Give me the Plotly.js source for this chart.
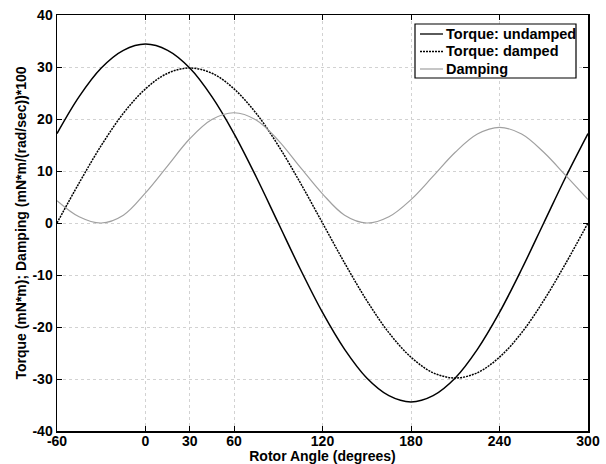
<!DOCTYPE html>
<html>
<head>
<meta charset="utf-8">
<script src="https://cdn.plot.ly/plotly-3.0.1.min.js"></script>
<style>html,body{margin:0;padding:0;background:#fff;}#chart{width:606px;height:464px;}</style>
</head>
<body>
<div id="chart"></div>
<script>
// Rotor angle (degrees)
const angle = [-60,-45,-30,-15,0,15,30,45,60,75,90,105,120,135,150,165,180,195,210,225,240,255,270,285,300];
// Torque: undamped (mN*m)
const torqueUndamped = [17.2,24.3,29.8,33.2,34.4,33.2,29.8,24.3,17.2,8.9,0.0,-8.9,-17.2,-24.3,-29.8,-33.2,-34.4,-33.2,-29.8,-24.3,-17.2,-8.9,0.0,8.9,17.2];
// Torque: damped (mN*m)
const torqueDamped = [0.0,7.7,14.9,21.1,25.8,28.8,29.8,28.8,25.8,21.1,14.9,7.7,0.0,-7.7,-14.9,-21.1,-25.8,-28.8,-29.8,-28.8,-25.8,-21.1,-14.9,-7.7,0.0];
// Damping (mN*m/(rad/sec))*100
const damping = [4.3,1.2,0.0,1.5,5.8,11.0,16.2,19.9,21.2,19.8,15.9,10.7,5.6,1.5,0.0,1.2,4.5,9.0,13.6,17.1,18.4,17.1,13.6,9.1,4.5];

const seriesNames = ['Torque: undamped', 'Torque: damped', 'Damping'];
const xTicks = [-60,0,30,60,120,180,240,300];
const yTicks = [-40,-30,-20,-10,0,10,20,30,40];

const FONT = 'Liberation Sans, Arial, sans-serif';
const lineStyles = [
  {color: '#000000', width: 1.5},
  {color: '#000000', width: 1.5, dash: '2px,1px'},
  {color: '#a0a0a0', width: 1.2}
];

const traces = [torqueUndamped, torqueDamped, damping].map((ys, i) => ({
  x: angle, y: ys, name: seriesNames[i], type: 'scatter', mode: 'lines',
  line: Object.assign({shape: 'spline'}, lineStyles[i])
}));

// Legend drawn as a boxed key in the upper right (paper coordinates)
const W = 606, H = 464, M = {l: 57, r: 18, t: 15, b: 33};
const pw = W - M.l - M.r, ph = H - M.t - M.b;
const px = v => (v - M.l) / pw;
const py = v => 1 - (v - M.t) / ph;
const shapes = [{type: 'rect', xref: 'paper', yref: 'paper', x0: px(415), x1: px(576), y0: py(78), y1: py(24),
  line: {color: '#000000', width: 1.2}, fillcolor: '#ffffff', layer: 'above'}];
const annotations = [];
const rowY = [34, 51.5, 69];
seriesNames.forEach((name, i) => {
  shapes.push({type: 'line', xref: 'paper', yref: 'paper', x0: px(420), x1: px(443), y0: py(rowY[i]), y1: py(rowY[i]),
    line: Object.assign({}, lineStyles[i], {width: i === 2 ? 1.2 : 1.3}), layer: 'above'});
  annotations.push({xref: 'paper', yref: 'paper', x: px(444), y: py(rowY[i]), xanchor: 'left', yanchor: 'middle',
    text: '<b>' + name + '</b>', showarrow: false, font: {family: FONT, size: 14.5, color: '#000000'}});
});

const axisCommon = {
  showline: true, linecolor: '#000000', linewidth: 1.5, mirror: 'ticks',
  ticks: 'inside', ticklen: 5, tickcolor: '#000000', tickwidth: 1,
  showgrid: true, gridcolor: '#d2d2d2', griddash: 'dot', gridwidth: 1,
  zeroline: false,
  tickfont: {family: FONT, size: 14, color: '#000000', weight: 'bold'}
};

const layout = {
  width: W, height: H,
  margin: M,
  paper_bgcolor: '#ffffff', plot_bgcolor: '#ffffff',
  showlegend: false,
  shapes: shapes,
  annotations: annotations,
  xaxis: Object.assign({}, axisCommon, {
    range: [-60, 300], tickmode: 'array', tickvals: xTicks, ticktext: xTicks.map(String),
    ticklabelstandoff: -3,
    title: {text: '<b>Rotor Angle (degrees)</b>', font: {family: FONT, size: 14, color: '#000000'}, standoff: 2}
  }),
  yaxis: Object.assign({}, axisCommon, {
    range: [-40, 40], tickmode: 'array', tickvals: yTicks, ticktext: yTicks.map(String),
    title: {text: '<b>Torque (mN*m); Damping (mN*m/(rad/sec))*100</b>', font: {family: FONT, size: 14, color: '#000000'}, standoff: 2}
  })
};

Plotly.newPlot('chart', traces, layout, {displayModeBar: false, staticPlot: true});
</script>
</body>
</html>
